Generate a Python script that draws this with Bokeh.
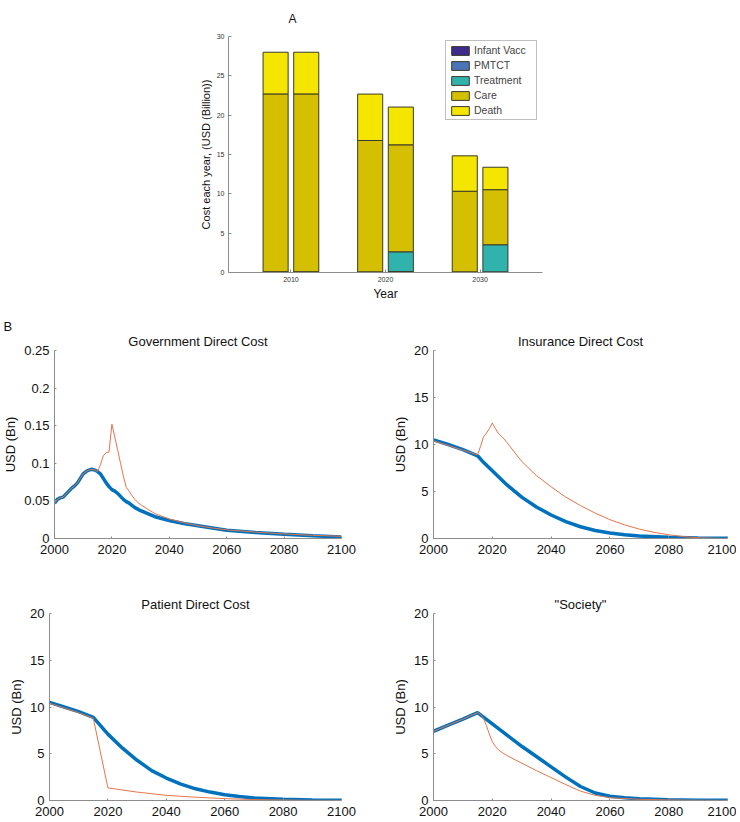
from bokeh.plotting import figure
from bokeh.models import (FixedTicker, Legend, LegendItem, Range1d, Title,
                          CustomJSTickFormatter, ColumnDataSource)
from bokeh.layouts import column, row
from bokeh.embed import file_html
from bokeh.resources import INLINE

FONT = "Liberation Sans"

# ---------------- Panel A data ----------------
bar_years = [2010, 2020, 2030]
components = ["Infant Vacc", "PMTCT", "Treatment", "Care", "Death"]
comp_colors = ["#3f2b8c", "#4a74b8", "#30b3ad", "#d4bf00", "#f5e600"]

infant_vacc_base = [0.05, 0.05, 0.05]
pmtct_base = [0.05, 0.03, 0.03]
treatment_base = [0.0, 0.0, 0.0]
care_base = [22.6, 16.7, 10.25]
death_base = [5.3, 5.9, 4.5]

infant_vacc_int = [0.05, 0.05, 0.05]
pmtct_int = [0.05, 0.08, 0.03]
treatment_int = [0.0, 2.5, 3.45]
care_int = [22.6, 13.6, 7.0]
death_int = [5.3, 4.8, 2.85]

# ---------------- Panel B data ----------------
gov_years_b = [2000, 2001, 2002, 2003, 2004, 2005, 2006, 2007, 2008, 2009, 2010,
               2011, 2012, 2013, 2014, 2015, 2016, 2017, 2018, 2019, 2020, 2021,
               2022, 2023, 2024, 2025, 2026, 2027, 2028, 2029, 2030, 2035, 2040,
               2045, 2050, 2055, 2060, 2070, 2080, 2090, 2100]
gov_base = [0.047, 0.052, 0.054, 0.055, 0.059, 0.063, 0.067, 0.070, 0.074, 0.080, 0.086,
            0.089, 0.091, 0.092, 0.091, 0.089, 0.086, 0.080, 0.074, 0.069, 0.065, 0.063,
            0.060, 0.056, 0.052, 0.049, 0.047, 0.044, 0.041, 0.039, 0.037, 0.029, 0.024,
            0.020, 0.017, 0.014, 0.011, 0.008, 0.0057, 0.0035, 0.0021]
gov_years_o = [2000, 2001, 2002, 2003, 2004, 2005, 2006, 2007, 2008, 2009, 2010,
               2011, 2012, 2013, 2014, 2015, 2016, 2017, 2018, 2019, 2020, 2021,
               2022, 2023, 2024, 2025, 2026, 2027, 2028, 2029, 2030, 2035, 2040,
               2045, 2050, 2055, 2060, 2070, 2080, 2090, 2100]
gov_int = [0.047, 0.052, 0.054, 0.055, 0.059, 0.063, 0.067, 0.070, 0.074, 0.080, 0.086,
           0.089, 0.091, 0.092, 0.091, 0.089, 0.098, 0.110, 0.114, 0.115, 0.152, 0.135,
           0.118, 0.100, 0.083, 0.068, 0.063, 0.057, 0.052, 0.048, 0.045, 0.033, 0.026,
           0.021, 0.017, 0.014, 0.0115, 0.0085, 0.006, 0.0042, 0.003]

ins_years_b = [2000, 2005, 2010, 2015, 2017, 2020, 2025, 2030, 2035, 2040, 2045,
               2050, 2055, 2060, 2065, 2070, 2080, 2090, 2100]
ins_base = [10.5, 10.0, 9.45, 8.8, 8.1, 7.2, 5.7, 4.4, 3.35, 2.5, 1.8,
            1.25, 0.85, 0.58, 0.4, 0.27, 0.12, 0.05, 0.02]
ins_years_o = [2000, 2005, 2010, 2015, 2016, 2017, 2018, 2019, 2020, 2021, 2022,
               2023, 2024, 2025, 2030, 2035, 2040, 2045, 2050, 2055, 2060, 2065,
               2070, 2075, 2080, 2085, 2090, 2095, 2100]
ins_int = [10.4, 9.9, 9.4, 8.9, 9.8, 10.8, 11.2, 11.7, 12.3, 11.7, 11.2,
           10.9, 10.6, 10.2, 8.2, 6.7, 5.5, 4.4, 3.5, 2.7, 2.0, 1.45,
           1.0, 0.65, 0.4, 0.2, 0.08, 0.03, 0.0]

pat_years_b = [2000, 2005, 2010, 2015, 2020, 2025, 2030, 2035, 2040, 2045, 2050,
               2055, 2060, 2065, 2070, 2080, 2090, 2100]
pat_base = [10.5, 10.0, 9.5, 8.9, 7.1, 5.6, 4.3, 3.2, 2.4, 1.75, 1.25,
            0.9, 0.62, 0.42, 0.28, 0.13, 0.06, 0.03]
pat_years_o = [2000, 2005, 2010, 2015, 2020, 2030, 2040, 2050, 2060, 2070, 2080, 2090, 2100]
pat_int = [10.4, 9.9, 9.4, 8.8, 1.35, 0.9, 0.55, 0.35, 0.2, 0.1, 0.05, 0.02, 0.01]

soc_years_b = [2000, 2005, 2010, 2015, 2020, 2025, 2030, 2035, 2040, 2045, 2050,
               2055, 2060, 2065, 2070, 2080, 2090, 2100]
soc_base = [7.4, 8.05, 8.7, 9.4, 8.2, 7.0, 5.8, 4.7, 3.6, 2.5, 1.5,
            0.8, 0.45, 0.3, 0.2, 0.08, 0.04, 0.02]
soc_years_o = [2000, 2005, 2010, 2015, 2016, 2017, 2018, 2019, 2020, 2021, 2022,
               2023, 2025, 2030, 2035, 2040, 2045, 2050, 2055, 2060, 2070, 2080,
               2090, 2100]
soc_int = [7.4, 8.05, 8.7, 9.4, 9.2, 8.8, 8.0, 7.1, 6.3, 5.8, 5.45,
           5.2, 4.8, 4.0, 3.2, 2.45, 1.7, 1.0, 0.55, 0.3, 0.13, 0.06,
           0.03, 0.01]

AXIS_COLOR = "#8c8c8c"
BLUE = "#0072BD"
ORANGE = "#e4754a"


def style_axes(p, tick_size, label_size, tick_color, tick_in, x_standoff, y_standoff, ylab_standoff):
    for ax in (p.xaxis[0], p.yaxis[0]):
        ax.axis_line_color = AXIS_COLOR
        ax.major_tick_line_color = AXIS_COLOR
        ax.major_tick_in = tick_in
        ax.major_tick_out = 0
        ax.minor_tick_line_color = None
        ax.major_label_text_font = FONT
        ax.major_label_text_font_size = tick_size
        ax.major_label_text_color = tick_color
        ax.axis_label_text_font = FONT
        ax.axis_label_text_font_size = label_size
        ax.axis_label_text_font_style = "normal"
        ax.axis_label_text_color = "#111111"
    p.xaxis[0].major_label_standoff = x_standoff
    p.yaxis[0].major_label_standoff = y_standoff
    p.yaxis[0].axis_label_standoff = ylab_standoff
    p.xgrid.visible = False
    p.ygrid.visible = False
    p.outline_line_color = None


def style_title(t, size, align, standoff, offset=0, valign="bottom"):
    t.text_font = FONT
    t.text_font_size = size
    t.text_font_style = "normal"
    t.text_color = "#111111"
    t.align = align
    t.standoff = standoff
    t.offset = offset
    t.vertical_align = valign


# ---------------- Panel A figure ----------------
bar_offset = 1.62
bar_width = 2.65

pA = figure(width=736, height=310, x_range=Range1d(2003.4, 2036.6), y_range=Range1d(0, 30),
            output_backend="svg", toolbar_location=None, title="A",
            min_border_left=228, min_border_right=194, min_border_top=36, min_border_bottom=38)
style_title(pA.title, "12px", "left", 17, 60, "top")

src_base = ColumnDataSource(dict(x=[y - bar_offset for y in bar_years],
                                 **{"Infant Vacc": infant_vacc_base, "PMTCT": pmtct_base,
                                    "Treatment": treatment_base, "Care": care_base,
                                    "Death": death_base}))
src_int = ColumnDataSource(dict(x=[y + bar_offset for y in bar_years],
                                **{"Infant Vacc": infant_vacc_int, "PMTCT": pmtct_int,
                                   "Treatment": treatment_int, "Care": care_int,
                                   "Death": death_int}))

rb = pA.vbar_stack(components, x="x", width=bar_width, source=src_base, color=comp_colors,
                   line_color="#3a3a2a", line_width=1)
ri = pA.vbar_stack(components, x="x", width=bar_width, source=src_int, color=comp_colors,
                   line_color="#3a3a2a", line_width=1)

pA.xaxis.ticker = FixedTicker(ticks=bar_years)
pA.yaxis.ticker = FixedTicker(ticks=[0, 5, 10, 15, 20, 25, 30])
pA.xaxis.axis_label = "Year"
pA.yaxis.axis_label = "Cost each year, (USD (Billion))"
style_axes(pA, "7px", "11.5px", "#333333", 3, 4, 4, 2)
pA.xaxis[0].axis_label_standoff = 2
pA.xaxis[0].axis_label_text_font_size = "12px"
pA.yaxis[0].axis_label_text_font_size = "11px"

legend = Legend(items=[LegendItem(label=c, renderers=[r]) for c, r in zip(components, rb)],
                location=(217, 152), orientation="vertical",
                glyph_width=22, glyph_height=11, label_height=11, spacing=3,
                padding=3, margin=0, label_width=59, label_standoff=3,
                label_text_font=FONT, label_text_font_size="10.5px",
                border_line_color="#7f7f7f", border_line_width=1,
                background_fill_color="white", background_fill_alpha=1)
pA.add_layout(legend, "center")


# ---------------- Panel B figures ----------------
def line_panel(title, yb, vb, yo, vo, y_end, yticks, width, height, mbl, mbr, mbt, mbb,
               fmt=False, outer_title=None):
    p = figure(width=width, height=height, x_range=Range1d(2000, 2100),
               y_range=Range1d(0, y_end), output_backend="svg", toolbar_location=None,
               min_border_left=mbl, min_border_right=mbr, min_border_top=mbt,
               min_border_bottom=mbb)
    p.line(yb, vb, line_color=BLUE, line_width=3.5)
    p.line(yo, vo, line_color=ORANGE, line_width=1)
    p.xaxis.ticker = FixedTicker(ticks=[2000, 2020, 2040, 2060, 2080, 2100])
    p.yaxis.ticker = FixedTicker(ticks=yticks)
    if fmt:
        p.yaxis.formatter = CustomJSTickFormatter(code="return tick.toString();")
    p.yaxis.axis_label = "USD (Bn)"
    t = Title(text=title)
    style_title(t, "13px", "center", 3)
    p.add_layout(t, "above")
    if outer_title is not None:
        p.title.text = outer_title
        style_title(p.title, "13px", "left", -9, -51, "middle")
    return p


p1 = line_panel("Government Direct Cost", gov_years_b, gov_base, gov_years_o, gov_int,
                0.25, [0, 0.05, 0.1, 0.15, 0.2, 0.25], 384, 256, 49, 43, 40, 28, fmt=True,
                outer_title="B")
p2 = line_panel("Insurance Direct Cost", ins_years_b, ins_base, ins_years_o, ins_int,
                20, [0, 5, 10, 15, 20], 352, 256, 49, 9, 40, 28)
p3 = line_panel("Patient Direct Cost", pat_years_b, pat_base, pat_years_o, pat_int,
                20, [0, 5, 10, 15, 20], 384, 256, 49, 43, 47, 22)
p4 = line_panel('"Society"', soc_years_b, soc_base, soc_years_o, soc_int,
                20, [0, 5, 10, 15, 20], 352, 256, 49, 9, 47, 22)

for p in (p1, p2, p3, p4):
    style_axes(p, "13px", "13px", "#111111", 2, 6, 5, 3)

layout = column(pA, row(p1, p2), row(p3, p4))

open("out.html", "w").write(file_html(layout, INLINE))
